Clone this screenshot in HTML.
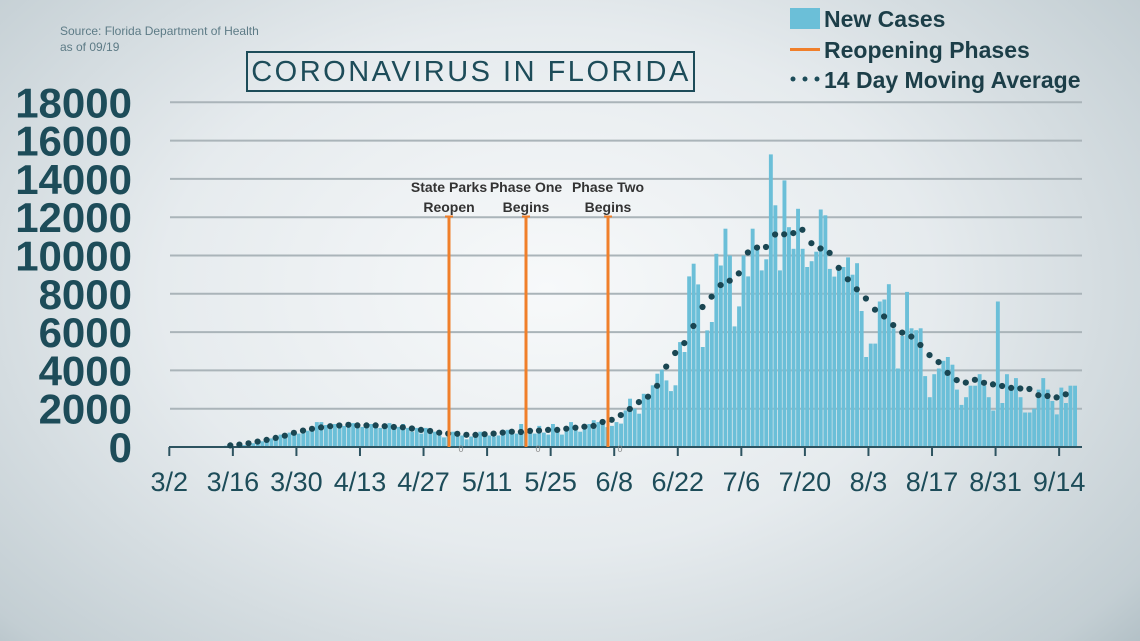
<!DOCTYPE html>
<html><head><meta charset="utf-8"><style>
html,body{margin:0;padding:0;}
body{width:1140px;height:641px;overflow:hidden;background:radial-gradient(ellipse 75% 90% at 48% 45%,#f7f9fa 0%,#e6ebee 45%,#c3ced3 85%,#a3b3ba 100%);font-family:"Liberation Sans",sans-serif;}
</style></head><body>
<svg id="s" width="1140" height="641" xmlns="http://www.w3.org/2000/svg" style="position:absolute;left:0;top:0">
<text x="60" y="35" font-size="12" fill="#5d7b86">Source: Florida Department of Health</text>
<text x="60" y="51" font-size="12" fill="#5d7b86">as of 09/19</text>
<rect x="247" y="52" width="447" height="39" fill="none" stroke="#1d4c59" stroke-width="2"/>
<text x="471" y="81" font-size="29" fill="#1d4c59" text-anchor="middle" letter-spacing="2.5">CORONAVIRUS IN FLORIDA</text>
<rect x="790" y="8" width="30" height="21" fill="#6bbfd8"/>
<text x="824" y="27" font-size="23" font-weight="bold" fill="#1c3e48">New Cases</text>
<rect x="790" y="48" width="30" height="3" fill="#f07f2a"/>
<text x="824" y="58" font-size="23" font-weight="bold" fill="#1c3e48">Reopening Phases</text>
<circle cx="793" cy="79" r="2.5" fill="#1d4c59"/><circle cx="805" cy="79" r="2.5" fill="#1d4c59"/><circle cx="817" cy="79" r="2.5" fill="#1d4c59"/>
<text x="824" y="88" font-size="23" font-weight="bold" fill="#1c3e48">14 Day Moving Average</text>
<g id="g"></g>
</svg>
<script>
var d=[0,0,1,2,5,8,10,15,20,30,40,50,70,90,
50,80,100,150,200,250,300,350,450,500,650,700,750,650,
700,900,850,1000,1300,1300,1150,1100,1200,1050,1100,1300,1250,1000,
1050,1100,1200,1100,1000,1200,1250,1000,1050,1200,1000,800,1000,700,
1000,900,800,600,500,700,800,650,600,400,550,600,800,750,
600,550,600,750,900,800,700,1200,800,900,700,1100,750,650,
1200,750,650,900,1300,900,800,1100,1200,1400,1300,
1220,1040,1100,1300,1220,1910,2520,2000,1740,2780,2610,3220,3830,4040,3480,2920,3220,5480,4960,8910,9570,8490,5220,6090,6530,10090,9480,11400,10000,6300,7340,10000,8910,11400,10350,9220,9800,15280,
12620,9220,13920,11480,10350,12440,10350,9400,9700,10200,12400,12100,9300,8900,9200,9400,9900,9000,9600,7100,4700,5400,5400,7600,7700,8500,6200,4100,5800,8100,6200,6100,6200,3700,2600,3800,4100,4500,4700,4300,3000,2200,2600,3200,3200,3800,3200,2600,1900,7600,2300,3800,3200,3600,2600,1800,1800,2000,3000,3600,3000,2400,1700,3100,2300,3200,3200];
var X0=169.3,DX=4.54,Y0=447,S=38.3/2000,h='';
for(var k=0;k<=9;k++){var y=Y0-k*38.3;
 if(k>0)h+='<line x1="170" x2="1082" y1="'+y+'" y2="'+y+'" stroke="#aab4b9" stroke-width="2"/>';
 h+='<text x="132" y="'+(y+15)+'" font-size="42" font-weight="bold" fill="#1d4c59" text-anchor="end">'+(k*2000)+'</text>';}
for(var i=0;i<d.length;i++){var v=d[i]*S;h+='<rect x="'+(X0+i*DX+0.3).toFixed(1)+'" y="'+(Y0-v).toFixed(1)+'" width="3.9" height="'+v.toFixed(1)+'" fill="#6bbfd8"/>';}
h+='<line x1="169" x2="1082" y1="447" y2="447" stroke="#2d5360" stroke-width="2"/>';
var labs=['3/2','3/16','3/30','4/13','4/27','5/11','5/25','6/8','6/22','7/6','7/20','8/3','8/17','8/31','9/14'];
for(var j=0;j<15;j++){var x=X0+j*14*DX;h+='<line x1="'+x+'" x2="'+x+'" y1="447" y2="456" stroke="#2d5360" stroke-width="2"/>';
 h+='<text x="'+x+'" y="491" font-size="27" fill="#1d4c59" text-anchor="middle">'+labs[j]+'</text>';}
for(var i=13;i<=197;i+=2){var s=0,n=0;for(var q=i-7;q<=i+6;q++){if(q>=0&&q<d.length){s+=d[q];n++;}}var m=s/n;
 h+='<circle cx="'+(X0+i*DX+2).toFixed(1)+'" cy="'+(Y0-m*S).toFixed(1)+'" r="3.1" fill="#1a4652"/>';}
var ph=[[449,'State Parks','Reopen'],[526,'Phase One','Begins'],[608,'Phase Two','Begins']];
ph.forEach(function(p){h+='<line x1="'+p[0]+'" x2="'+p[0]+'" y1="216" y2="447" stroke="#f07f2a" stroke-width="3"/>';
 h+='<line x1="'+(p[0]-4)+'" x2="'+(p[0]+4)+'" y1="216.5" y2="216.5" stroke="#f07f2a" stroke-width="2"/>';
 h+='<text x="'+p[0]+'" y="192" font-size="14" font-weight="bold" fill="#333" text-anchor="middle">'+p[1]+'</text>';
 h+='<text x="'+p[0]+'" y="212" font-size="14" font-weight="bold" fill="#333" text-anchor="middle">'+p[2]+'</text>';
 h+='<text x="'+(p[0]+12)+'" y="452" font-size="9" fill="#888" text-anchor="middle">0</text>';});
document.getElementById('g').innerHTML=h;
</script>
</body></html>
